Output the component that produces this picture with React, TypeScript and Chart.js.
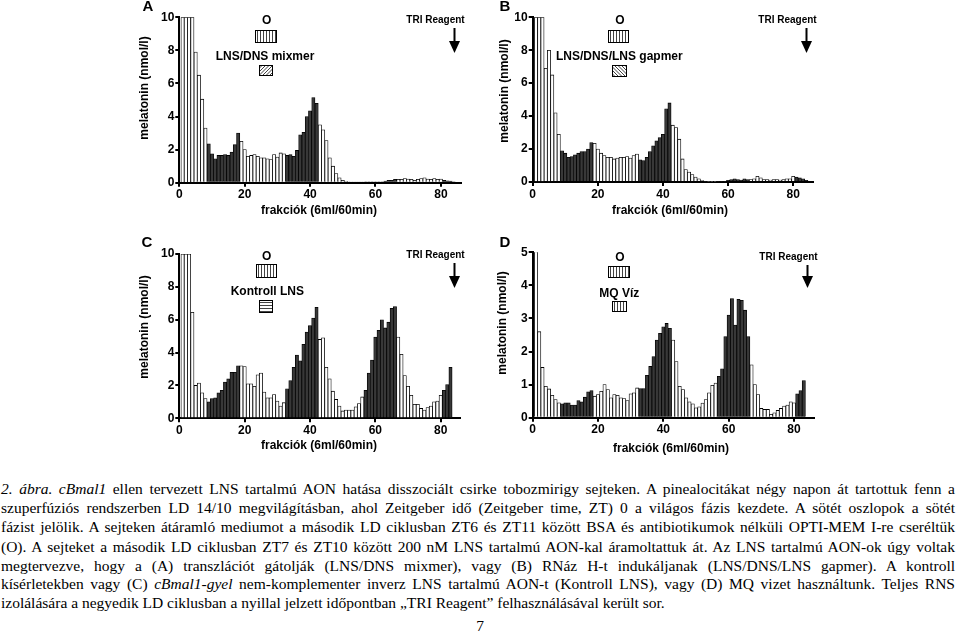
import React, { useEffect, useRef } from "react";
import { Chart, registerables } from "chart.js";
Chart.register(...registerables);

// ---------- data ----------
const darkRanges: [number, number][] = [[9, 18], [33, 42], [57, 66], [81, 84]];
const xTickValues = [0, 20, 40, 60, 80];
const yTicks10 = [0, 2, 4, 6, 8, 10];
const yTicks5 = [0, 1, 2, 3, 4, 5];

const melatoninA = [
  10, 10, 10, 10, 7.9, 6.5, 5.05, 3.3,
  2.35, 1.75, 1.45, 1.65, 1.65, 1.7, 1.65, 1.85, 2.3, 3.0,
  2.5, 2.0, 1.6, 1.65, 1.7, 1.6, 1.5, 1.5, 1.45, 1.4, 1.7, 1.55, 1.8, 1.75,
  1.65, 1.7, 1.6, 1.95, 2.9, 3.05, 4.0, 4.35, 5.15, 4.8,
  3.5, 3.2, 2.55, 1.5, 1.0, 0.55, 0.3, 0.15, 0.08, 0.06, 0.05, 0.05, 0.05, 0.05,
  0.05, 0.05, 0.05, 0.05, 0.05, 0.05, 0.1, 0.15, 0.15, 0.2,
  0.2, 0.2, 0.25, 0.22, 0.2, 0.15, 0.2, 0.25, 0.3, 0.22, 0.2, 0.25, 0.2, 0.22,
  0.15, 0.12, 0.1, 0.05,
];
const melatoninB = [
  10, 10, 10, 6.9, 8.0, 6.5, 4.2, 2.9,
  1.9, 1.75, 1.5, 1.55, 1.65, 1.75, 1.85, 1.85, 2.0, 2.4,
  2.35, 2.0, 1.75, 1.6, 1.5, 1.5, 1.4, 1.45, 1.5, 1.5, 1.55, 1.45, 1.6, 1.7,
  1.35, 1.3, 1.5, 1.85, 2.2, 2.5, 2.7, 2.9, 4.45, 4.8,
  3.45, 3.3, 2.6, 1.4, 0.75, 0.6, 0.45, 0.3, 0.2, 0.08, 0.06, 0.05, 0.05, 0.05,
  0.05, 0.05, 0.05, 0.1, 0.15, 0.2, 0.15, 0.12, 0.2, 0.15,
  0.15, 0.2, 0.35, 0.25, 0.15, 0.15, 0.12, 0.15, 0.15, 0.12, 0.15, 0.2, 0.2, 0.35,
  0.3, 0.25, 0.2, 0.1,
];
const melatoninC = [
  10, 10, 10, 6.45, 2.0, 2.15, 1.55, 1.2,
  1.0, 1.2, 1.25, 1.55, 1.7, 2.2, 2.4, 2.8, 2.8, 3.2,
  3.2, 3.15, 2.1, 2.1, 1.95, 2.65, 2.75, 1.6, 1.25, 1.25, 1.45, 1.05, 0.75, 0.95,
  1.8, 2.3, 3.1, 3.85, 3.5, 4.5, 5.25, 5.65, 6.1, 6.75,
  4.8, 4.9, 3.1, 2.4, 1.65, 1.15, 0.75, 0.45, 0.5, 0.5, 0.5, 0.7, 0.9, 1.3,
  1.7, 2.75, 3.55, 4.95, 5.35, 6.0, 5.5, 5.85, 6.7, 6.8,
  4.95, 3.9, 2.6, 1.95, 1.4, 0.85, 0.85, 0.6, 0.5, 0.65, 0.75, 1.0, 1.05, 1.4,
  1.7, 2.05, 3.1,
];
const melatoninD = [
  5.05, 2.6, 1.52, 0.95, 0.87, 0.68, 0.55, 0.45,
  0.42, 0.45, 0.45, 0.38, 0.38, 0.52, 0.48, 0.62, 0.78, 0.82,
  0.65, 0.7, 0.8, 1.0, 0.85, 0.6, 0.7, 0.68, 0.6, 0.58, 0.52, 0.72, 0.75, 0.9,
  0.88, 0.88, 1.28, 1.55, 1.85, 2.35, 2.55, 2.75, 2.85, 2.7,
  2.35, 1.7, 0.95, 0.85, 0.6, 0.48, 0.42, 0.3, 0.33, 0.44, 0.55, 0.75, 0.98, 1.05,
  1.25, 1.48, 2.45, 3.1, 3.6, 2.8, 3.58, 3.55, 3.25, 2.45,
  1.6, 1.0, 0.7, 0.28, 0.25, 0.25, 0.1, 0.15, 0.22, 0.28, 0.35, 0.38, 0.48, 0.45,
  0.72, 0.82, 1.12,
];

const panelLetters = ["A", "B", "C", "D"];
const treatmentLabels = ["LNS/DNS mixmer", "LNS/DNS/LNS gapmer", "Kontroll LNS", "MQ Víz"];
const mediumLabel = "O";
const arrowLabel = "TRI Reagent";
const arrowFraction = 84;
const yTitle = "melatonin (nmol/l)";
const xTitle = "frakciók (6ml/60min)";

// ---------- layout ----------
const SANS = "'Liberation Sans', Arial, Helvetica, sans-serif";
const SERIF = "'Liberation Serif', 'Times New Roman', serif";

type Layout = {
  left: number; top: number; w: number; h: number;
  plotLeft: number; plotTop: number; plotBottom: number; plotRight: number;
  letter: [number, number]; yTitle: [number, number]; xTitle: [number, number];
  o: [number, number]; box1: [number, number, number, number];
  lab2: [number, number]; box2: [number, number, number, number]; hatch2: string;
  triY: number; arrowTop: number; arrowBottom: number;
};

const layouts: Layout[] = [
  { left: 130, top: 0, w: 345, h: 225, plotLeft: 49.3, plotTop: 17.3, plotBottom: 182.7, plotRight: 330.5,
    letter: [18, 7], yTitle: [15, 88], xTitle: [189, 210.7],
    o: [136.7, 20.7], box1: [125, 30, 22, 13], lab2: [135, 56.7], box2: [129, 65, 14, 11], hatch2: "diag",
    triY: 20, arrowTop: 28, arrowBottom: 53 },
  { left: 490, top: 0, w: 345, h: 225, plotLeft: 42.7, plotTop: 17.3, plotBottom: 182, plotRight: 322.8,
    letter: [15, 7], yTitle: [15, 91], xTitle: [180, 210.7],
    o: [130, 20.7], box1: [118, 30, 21, 13], lab2: [129.3, 56.7], box2: [122, 65, 15, 12], hatch2: "back",
    triY: 20.7, arrowTop: 28, arrowBottom: 53 },
  { left: 130, top: 235, w: 345, h: 225, plotLeft: 49.3, plotTop: 19, plotBottom: 183.3, plotRight: 330.3,
    letter: [17, 8], yTitle: [15, 92], xTitle: [189, 210.7],
    o: [136.7, 21.7], box1: [126, 29, 21, 14], lab2: [137.3, 56.7], box2: [129, 65, 14, 13], hatch2: "horiz",
    triY: 20.7, arrowTop: 28, arrowBottom: 53 },
  { left: 490, top: 235, w: 345, h: 225, plotLeft: 42.7, plotTop: 17.3, plotBottom: 182.7, plotRight: 323.6,
    letter: [15, 8], yTitle: [13, 88], xTitle: [181, 213.3],
    o: [130, 22.7], box1: [118, 31, 22, 12], lab2: [129.3, 59], box2: [122, 66, 15, 11], hatch2: "vert",
    triY: 22.7, arrowTop: 30, arrowBottom: 53 },
];

function isDark(f: number) {
  return darkRanges.some(([a, b]) => f >= a && f <= b);
}

function hatchBox(ctx: CanvasRenderingContext2D, b: [number, number, number, number], kind: string) {
  const [x, y, w, h] = b;
  ctx.save();
  ctx.fillStyle = "#fff";
  ctx.fillRect(x, y, w, h);
  ctx.beginPath();
  ctx.rect(x, y, w, h);
  ctx.clip();
  ctx.strokeStyle = "#444";
  ctx.lineWidth = 1;
  ctx.beginPath();
  if (kind === "vert") {
    for (let xx = x + 2.5; xx < x + w; xx += 3) { ctx.moveTo(xx, y); ctx.lineTo(xx, y + h); }
  } else if (kind === "horiz") {
    for (let yy = y + 2.5; yy < y + h; yy += 3) { ctx.moveTo(x, yy); ctx.lineTo(x + w, yy); }
  } else if (kind === "diag") {
    for (let d = -h; d < w + h; d += 3.5) { ctx.moveTo(x + d, y + h); ctx.lineTo(x + d + h, y); }
  } else {
    for (let d = -h; d < w + h; d += 3.5) { ctx.moveTo(x + d, y); ctx.lineTo(x + d + h, y + h); }
  }
  ctx.stroke();
  ctx.restore();
  ctx.save();
  ctx.strokeStyle = "#000";
  ctx.lineWidth = 1;
  ctx.strokeRect(x + 0.5, y + 0.5, w - 1, h - 1);
  ctx.restore();
}

const decorPlugin = {
  id: "decor",
  afterDraw(chart: any, _args: any, o: any) {
    const L: Layout = o.layout;
    const ctx: CanvasRenderingContext2D = chart.ctx;
    ctx.save();
    ctx.fillStyle = "#000";
    ctx.textAlign = "center";
    ctx.textBaseline = "middle";
    ctx.font = `bold 15px ${SANS}`;
    ctx.fillText(o.letter, L.letter[0], L.letter[1]);
    ctx.font = `bold 12px ${SANS}`;
    ctx.save();
    ctx.translate(L.yTitle[0], L.yTitle[1]);
    ctx.rotate(-Math.PI / 2);
    ctx.fillText(yTitle, 0, 0);
    ctx.restore();
    ctx.fillText(xTitle, L.xTitle[0], L.xTitle[1]);
    ctx.fillText(mediumLabel, L.o[0], L.o[1]);
    ctx.fillText(o.label, L.lab2[0], L.lab2[1]);
    hatchBox(ctx, L.box1, "vert");
    hatchBox(ctx, L.box2, L.hatch2);
    const ax = Math.round(chart.scales.x.getPixelForValue(arrowFraction)) + 0.5;
    ctx.font = `bold 10px ${SANS}`;
    ctx.fillText(arrowLabel, ax - 19, L.triY);
    ctx.strokeStyle = "#000";
    ctx.lineWidth = 2;
    ctx.beginPath();
    ctx.moveTo(ax, L.arrowTop);
    ctx.lineTo(ax, L.arrowBottom - 8);
    ctx.stroke();
    ctx.beginPath();
    ctx.moveTo(ax - 5.5, L.arrowBottom - 12);
    ctx.lineTo(ax + 5.5, L.arrowBottom - 12);
    ctx.lineTo(ax, L.arrowBottom);
    ctx.closePath();
    ctx.fill();
    ctx.restore();
  },
};

function Panel({ idx, values, yTicks }: { idx: number; values: number[]; yTicks: number[] }) {
  const ref = useRef<HTMLCanvasElement>(null);
  const L = layouts[idx];
  useEffect(() => {
    const canvas = ref.current!;
    const tickFont = { family: SANS, size: 12, weight: "bold" as const };
    const axisGrid = {
      display: true, drawOnChartArea: false, drawTicks: true, tickLength: 4,
      color: "#000", lineWidth: 2, offset: false,
    };
    const chart = new Chart(canvas, {
      type: "bar",
      data: {
        datasets: [{
          data: values.map((v, i) => ({ x: i + 1, y: v })),
          backgroundColor: values.map((_, i) => (isDark(i + 1) ? "#383838" : "#ffffff")),
          borderColor: "#000",
          borderWidth: 0.8,
          borderSkipped: "bottom",
          barPercentage: 1,
          categoryPercentage: 1,
        }],
      },
      options: {
        animation: false,
        responsive: false,
        maintainAspectRatio: false,
        events: [],
        layout: { padding: { top: L.plotTop, right: L.w - L.plotRight, left: 0, bottom: 0 } },
        plugins: {
          legend: { display: false },
          tooltip: { enabled: false },
          decor: { layout: L, letter: panelLetters[idx], label: treatmentLabels[idx] },
        } as any,
        scales: {
          x: {
            type: "linear",
            min: 0,
            max: 86,
            offset: false,
            grid: axisGrid,
            border: { display: true, color: "#000", width: 2 },
            ticks: { color: "#000", font: tickFont, padding: 1, maxRotation: 0, autoSkip: false },
            afterBuildTicks: (s: any) => { s.ticks = xTickValues.map((v) => ({ value: v })); },
            afterFit: (s: any) => { s.height = L.h - L.plotBottom; },
          },
          y: {
            type: "linear",
            min: 0,
            max: yTicks[yTicks.length - 1],
            grid: axisGrid,
            border: { display: true, color: "#000", width: 2 },
            ticks: { color: "#000", font: tickFont, padding: 1 },
            afterBuildTicks: (s: any) => { s.ticks = yTicks.map((v) => ({ value: v })); },
            afterFit: (s: any) => { s.width = L.plotLeft; },
          },
        },
      } as any,
      plugins: [decorPlugin],
    });
    return () => chart.destroy();
  }, []);
  return (
    <canvas
      ref={ref}
      width={L.w}
      height={L.h}
      style={{ position: "absolute", left: L.left, top: L.top, width: L.w, height: L.h }}
    />
  );
}

const captionLines: React.ReactNode[] = [
  <><i>2. ábra. cBmal1</i> ellen tervezett LNS tartalmú AON hatása disszociált csirke tobozmirigy sejteken. A pinealocitákat négy napon át tartottuk fenn a</>,
  <>szuperfúziós rendszerben LD 14/10 megvilágításban, ahol Zeitgeber idő (Zeitgeber time, ZT) 0 a világos fázis kezdete. A sötét oszlopok a sötét</>,
  <>fázist jelölik. A sejteken átáramló mediumot a második LD ciklusban ZT6 és ZT11 között BSA és antibiotikumok nélküli OPTI-MEM I-re cseréltük</>,
  <>(O). A sejteket a második LD ciklusban ZT7 és ZT10 között 200 nM LNS tartalmú AON-kal áramoltattuk át. Az LNS tartalmú AON-ok úgy voltak</>,
  <>megtervezve, hogy a (A) transzlációt gátolják (LNS/DNS mixmer), vagy (B) RNáz H-t indukáljanak (LNS/DNS/LNS gapmer). A kontroll</>,
  <>kísérletekben vagy (C) <i>cBmal1-gyel</i> nem-komplementer inverz LNS tartalmú AON-t (Kontroll LNS), vagy (D) MQ vizet használtunk. Teljes RNS</>,
  <>izolálására a negyedik LD ciklusban a nyillal jelzett időpontban „TRI Reagent” felhasználásával került sor.</>,
];
const captionCenters = [488.3, 507.5, 526.7, 546, 565, 583.5, 602];

export default function App() {
  return (
    <div style={{ position: "absolute", left: 0, top: 0, width: 959, height: 632, background: "#fff", overflow: "hidden" }}>
      <Panel idx={0} values={melatoninA} yTicks={yTicks10} />
      <Panel idx={1} values={melatoninB} yTicks={yTicks10} />
      <Panel idx={2} values={melatoninC} yTicks={yTicks10} />
      <Panel idx={3} values={melatoninD} yTicks={yTicks5} />
      {captionLines.map((line, i) => (
        <div
          key={i}
          style={{
            position: "absolute", left: 1, width: 954, top: captionCenters[i] - 9.5, height: 19,
            lineHeight: "19px", fontFamily: SERIF, fontSize: 15.5, color: "#000",
            textAlign: "justify", textAlignLast: i === captionLines.length - 1 ? "left" : "justify",
            whiteSpace: "normal",
          } as any}
        >
          {line}
        </div>
      ))}
      <div style={{ position: "absolute", left: 470, width: 20, top: 616, lineHeight: "19px", textAlign: "center", fontFamily: SERIF, fontSize: 15.5 }}>7</div>
    </div>
  );
}
